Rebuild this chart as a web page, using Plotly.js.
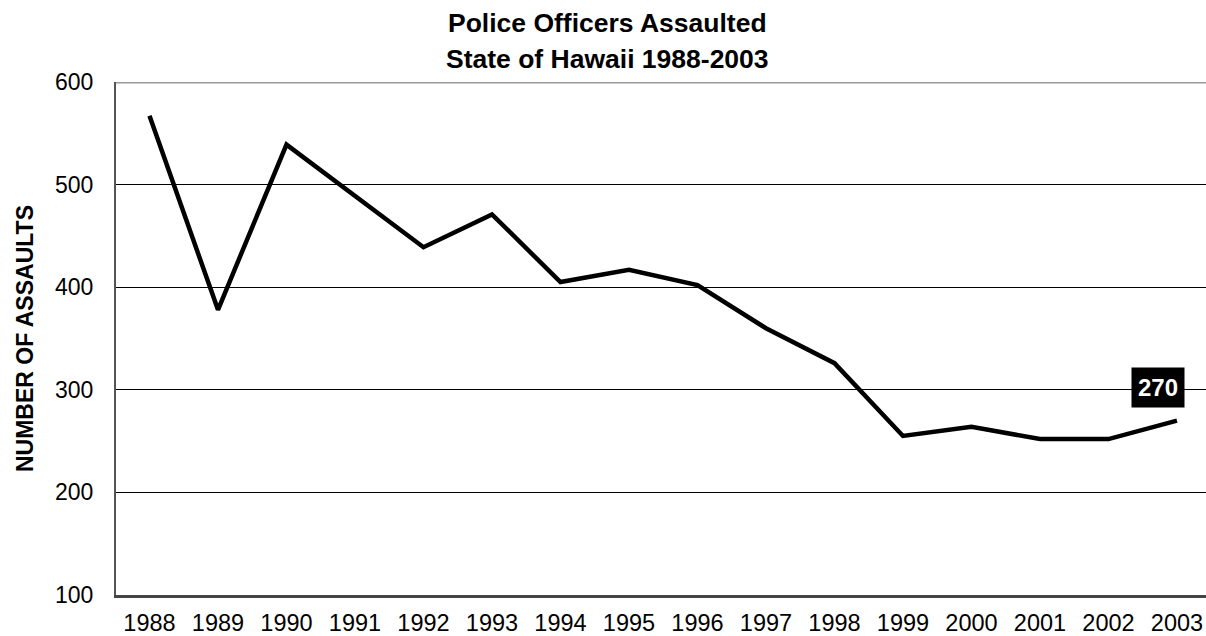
<!DOCTYPE html>
<html>
<head>
<meta charset="utf-8">
<script src="https://cdn.plot.ly/plotly-3.0.1.min.js"></script>
<style>html,body{margin:0;padding:0;background:#fff;overflow:hidden}</style>
</head>
<body>
<div id="chart" style="width:1206px;height:636px"></div>
<script>
const years = [1988,1989,1990,1991,1992,1993,1994,1995,1996,1997,1998,1999,2000,2001,2002,2003];
const assaults = [567,378,539,489,439,471,405,417,402,360,326,255,264,252,252,270];
const yTicks = [100,200,300,400,500,600];
const titleLines = ["Police Officers Assaulted","State of Hawaii 1988-2003"];
const yTitle = "NUMBER OF ASSAULTS";
const labelYear = 2003;
const labelValue = 270;

const font = "Liberation Sans, Arial, sans-serif";
const trace = {
  x: years, y: assaults, type: "scatter", mode: "lines",
  line: {color: "#000", width: 4.5, shape: "linear"},
  hoverinfo: "x+y"
};
const layout = {
  width: 1206, height: 636,
  margin: {l: 115.5, r: 0, t: 81.5, b: 41, pad: 0},
  paper_bgcolor: "#fff", plot_bgcolor: "#fff",
  showlegend: false,
  font: {family: font, color: "#000", size: 22},
  xaxis: {
    range: [1987.511, 2003.424], tickvals: years, ticktext: years.map(String),
    showgrid: false, zeroline: false, showline: true, linecolor: "#444", linewidth: 3,
    ticks: "outside", ticklen: 5, tickcolor: "rgba(0,0,0,0)",
    tickfont: {family: font, size: 23.5, color: "#000"}
  },
  yaxis: {
    range: [100, 600], tickvals: yTicks, ticktext: yTicks.map(String),
    showgrid: true, gridcolor: "#000", gridwidth: 1, zeroline: false,
    showline: true, linecolor: "#555", linewidth: 2,
    ticks: "outside", ticklen: 16, tickcolor: "rgba(0,0,0,0)",
    tickfont: {family: font, size: 23, color: "#000"}
  },
  shapes: [{type: "line", xref: "paper", yref: "y", x0: 0, x1: 1, y0: 600, y1: 600,
            line: {color: "#999", width: 3}}],
  annotations: [
    {text: "<b>" + titleLines[0] + "</b>", xref: "paper", yref: "paper", x: (607.5-115.5)/1090.5, y: 1 + (81.5-22)/513.5,
     xanchor: "center", yanchor: "middle", showarrow: false, font: {family: font, size: 26.5, color: "#000"}},
    {text: "<b>" + titleLines[1] + "</b>", xref: "paper", yref: "paper", x: (607.5-115.5)/1090.5, y: 1 + (81.5-58)/513.5,
     xanchor: "center", yanchor: "middle", showarrow: false, font: {family: font, size: 26.5, color: "#000"}},
    {text: "<b>" + yTitle + "</b>", xref: "paper", yref: "paper", x: -(115.5-24)/1090.5, y: 0.5,
     xanchor: "center", yanchor: "middle", textangle: -90, showarrow: false, font: {family: font, size: 23, color: "#000"}},
    {text: "<b>" + labelValue + "</b>", xref: "x", yref: "y", x: labelYear, y: labelValue,
     xshift: -19, yshift: 33, showarrow: false, bgcolor: "#000", borderpad: 6,
     font: {family: font, size: 24, color: "#fff"}}
  ]
};
Plotly.newPlot("chart", [trace], layout, {displayModeBar: false, staticPlot: true});
</script>
</body>
</html>
